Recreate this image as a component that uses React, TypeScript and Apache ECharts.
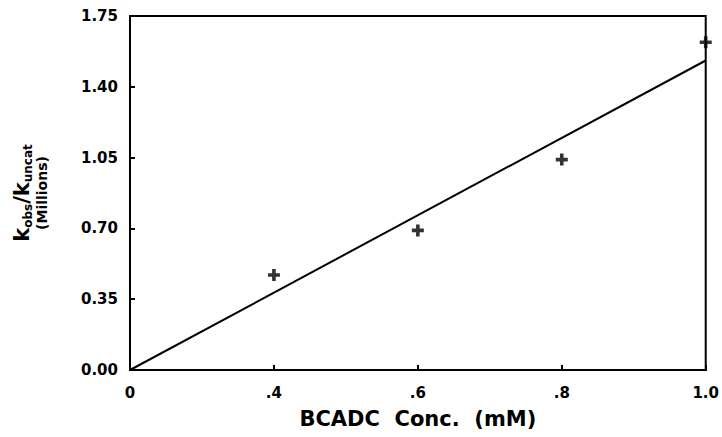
import React, { useEffect, useRef } from "react";
import * as echarts from "echarts";

const categories = ["0", ".4", ".6", ".8", "1.0"];
const observed = [null, 0.47, 0.69, 1.04, 1.62];
const fitLine = [0, null, null, null, 1.53];
const yMin = 0;
const yMax = 1.75;
const yStep = 0.35;
const xTitle = "BCADC  Conc.  (mM)";

const FONT = "DejaVu Sans";

export default function App() {
  const ref = useRef<HTMLDivElement>(null);
  useEffect(() => {
    if (!ref.current) return;
    const chart = echarts.init(ref.current, null, { renderer: "svg" });
    chart.setOption({
      animation: false,
      backgroundColor: "#ffffff",
      grid: {
        left: 130,
        right: 15,
        top: 16,
        bottom: 67,
        show: true,
        borderColor: "#000",
        borderWidth: 2,
        backgroundColor: "transparent",
      },
      xAxis: {
        type: "category",
        data: categories,
        boundaryGap: false,
        axisLine: { lineStyle: { color: "#000", width: 2 } },
        axisTick: { inside: true, length: 5, lineStyle: { color: "#000", width: 2 } },
        axisLabel: {
          color: "#000",
          fontFamily: FONT,
          fontWeight: "bold",
          fontSize: 15,
          margin: 15,
        },
        splitLine: { show: false },
        name: xTitle,
        nameLocation: "middle",
        nameGap: 38,
        nameTextStyle: {
          color: "#000",
          fontFamily: FONT,
          fontWeight: "bold",
          fontSize: 21,
        },
      },
      yAxis: {
        type: "value",
        min: yMin,
        max: yMax,
        interval: yStep,
        axisLine: { show: true, lineStyle: { color: "#000", width: 2 } },
        axisTick: { show: true, inside: true, length: 5, lineStyle: { color: "#000", width: 2 } },
        axisLabel: {
          color: "#000",
          fontFamily: FONT,
          fontWeight: "bold",
          fontSize: 15,
          margin: 12,
          formatter: (v: number) => v.toFixed(2),
        },
        splitLine: { show: false },
      },
      graphic: [
        {
          type: "text",
          x: 30,
          y: 193,
          rotation: Math.PI / 2,
          style: {
            text: "{k|k}{s|obs}{k|/k}{s|uncat}\n{m|(Millions)}",
            align: "center",
            verticalAlign: "middle",
            fill: "#000",
            rich: {
              k: { fontFamily: FONT, fontWeight: "bold", fontSize: 21, fill: "#000", lineHeight: 20 },
              s: {
                fontFamily: FONT,
                fontWeight: "bold",
                fontSize: 12,
                fill: "#000",
                padding: [11, 0, 0, 0],
              },
              m: { fontFamily: FONT, fontWeight: "bold", fontSize: 14, fill: "#000", lineHeight: 16 },
            },
          },
        },
      ],
      series: [
        {
          type: "line",
          data: fitLine,
          connectNulls: true,
          showSymbol: false,
          symbol: "none",
          lineStyle: { color: "#000", width: 2 },
          z: 2,
        },
        {
          type: "scatter",
          data: observed,
          symbol: "path://M3.5,0H6.5V3.5H10V6.5H6.5V10H3.5V6.5H0V3.5H3.5Z",
          symbolSize: 12,
          itemStyle: { color: "#000" },
          z: 3,
        },
      ],
    });
    return () => chart.dispose();
  }, []);
  return <div ref={ref} style={{ width: 722, height: 437, position: "absolute", left: 0, top: 0 }} />;
}
